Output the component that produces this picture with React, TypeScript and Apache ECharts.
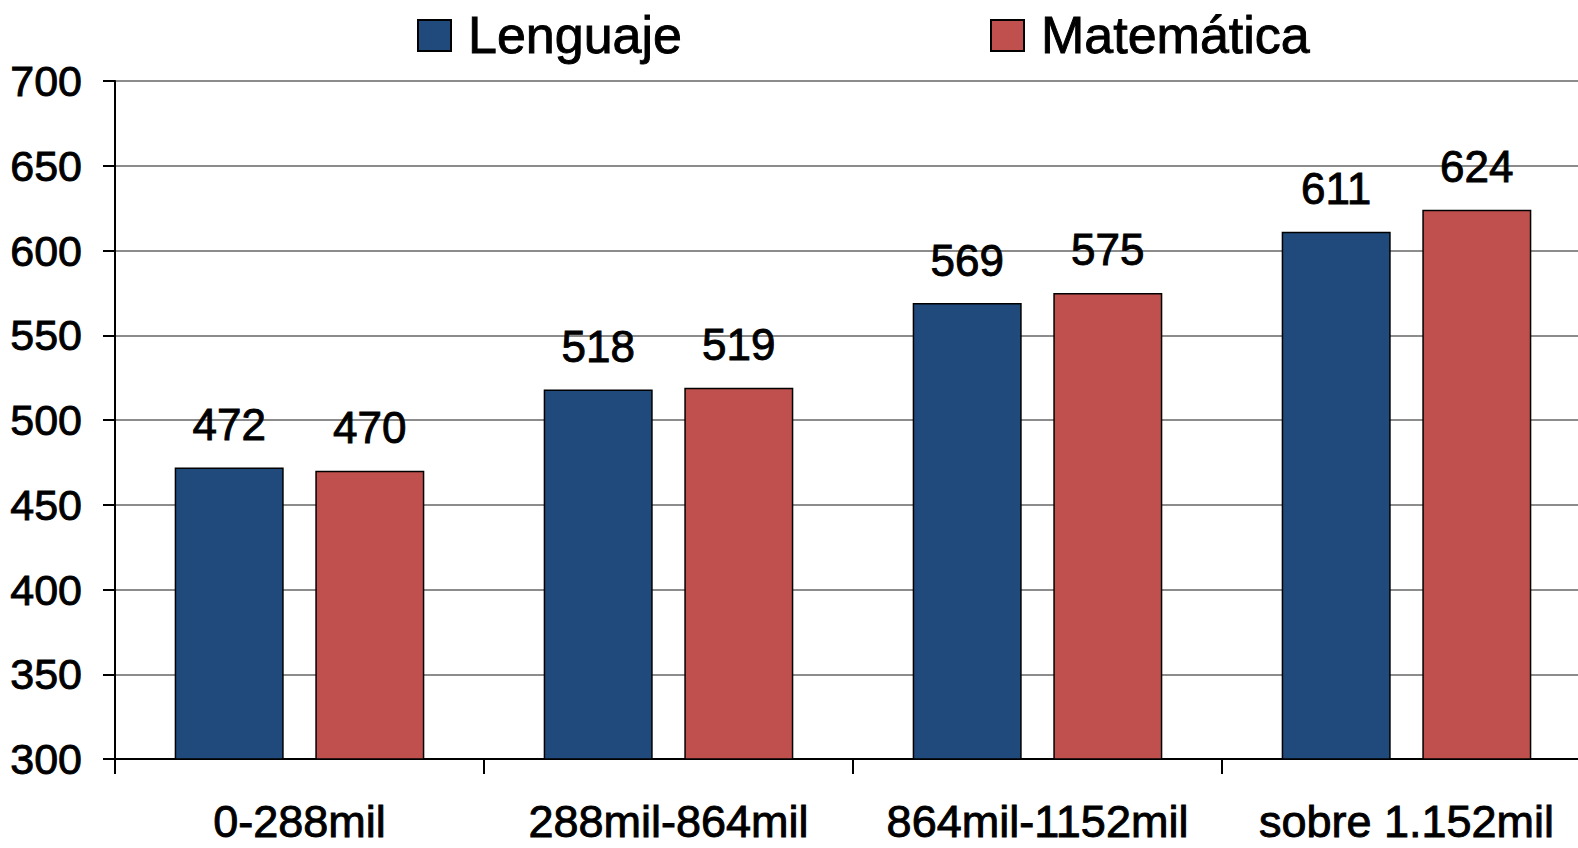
import React, { useEffect, useRef } from "react";
import * as echarts from "echarts";

const categories = ["0-288mil", "288mil-864mil", "864mil-1152mil", "sobre 1.152mil"];
const lenguaje = [472, 518, 569, 611];
const matematica = [470, 519, 575, 624];
const seriesNames = ["Lenguaje", "Matemática"];
const colors = ["#214A7C", "#C0504D"];

const FONT = "'Liberation Sans', Arial, Helvetica, sans-serif";
const heavy = { textBorderColor: "#000", textBorderWidth: 0.9 };

export default function App() {
  const ref = useRef<HTMLDivElement>(null);
  useEffect(() => {
    if (!ref.current) return;
    const chart = echarts.init(ref.current, undefined, { renderer: "svg" });
    const legendCommon = {
      top: 9,
      padding: 0,
      icon: "rect",
      itemWidth: 33,
      itemHeight: 31,
      textStyle: { fontSize: 52, color: "#000", fontFamily: FONT, padding: [0, 0, 12, 12], ...heavy },
    };
    chart.setOption({
      animation: false,
      backgroundColor: "#fff",
      textStyle: { fontFamily: FONT },
      legend: [
        { ...legendCommon, left: 417, data: [seriesNames[0]] },
        { ...legendCommon, left: 990, data: [seriesNames[1]] },
      ],
      grid: { left: 115, right: 0, top: 81, bottom: 89, containLabel: false },
      xAxis: {
        type: "category",
        data: categories,
        axisLine: { show: true, lineStyle: { color: "#000", width: 2 } },
        axisTick: { show: true, length: 15, lineStyle: { color: "#000", width: 2 } },
        axisLabel: {
          fontSize: 45,
          lineHeight: 36,
          color: "#000",
          margin: 44,
          fontFamily: FONT,
          interval: 0,
          ...heavy,
        },
      },
      yAxis: {
        type: "value",
        min: 300,
        max: 700,
        interval: 50,
        axisLine: { show: true, lineStyle: { color: "#000", width: 2 } },
        axisTick: { show: true, length: 12, lineStyle: { color: "#000", width: 2 } },
        axisLabel: { fontSize: 43, color: "#000", margin: 33, fontFamily: FONT, ...heavy },
        splitLine: { show: true, lineStyle: { color: "#8c8c8c", width: 2 } },
      },
      series: [
        {
          name: seriesNames[0],
          type: "bar",
          data: lenguaje,
          barWidth: 109,
          barGap: "29%",
          itemStyle: { color: colors[0], borderColor: "#000", borderWidth: 1.5 },
          label: { show: true, position: "top", distance: 21, fontSize: 44, color: "#000", fontFamily: FONT, ...heavy },
        },
        {
          name: seriesNames[1],
          type: "bar",
          data: matematica,
          barWidth: 109,
          barGap: "29%",
          itemStyle: { color: colors[1], borderColor: "#000", borderWidth: 1.5 },
          label: { show: true, position: "top", distance: 21, fontSize: 44, color: "#000", fontFamily: FONT, ...heavy },
        },
      ],
    });
    return () => chart.dispose();
  }, []);
  return (
    <div
      style={{ position: "fixed", left: 0, top: 0, width: 1578, height: 848, overflow: "hidden", background: "#fff" }}
    >
      <div ref={ref} style={{ width: 1591, height: 848 }} />
    </div>
  );
}
